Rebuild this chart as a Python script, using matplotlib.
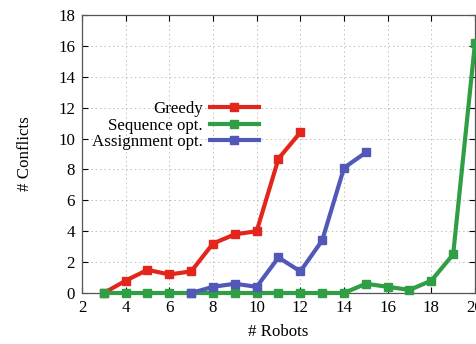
import matplotlib
matplotlib.use("Agg")
import matplotlib.pyplot as plt

plt.rcParams['font.family'] = ['Liberation Serif', 'DejaVu Serif']

greedy_x = [3, 4, 5, 6, 7, 8, 9, 10, 11, 12]
greedy_y = [0, 0.8, 1.5, 1.2, 1.4, 3.2, 3.8, 4.0, 8.7, 10.4]

seq_x = [3, 4, 5, 6, 7, 8, 9, 10, 11, 12, 13, 14, 15, 16, 17, 18, 19, 20]
seq_y = [0, 0, 0, 0, 0, 0, 0, 0, 0, 0, 0, 0, 0.6, 0.4, 0.2, 0.8, 2.5, 16.2]

assign_x = [7, 8, 9, 10, 11, 12, 13, 14, 15]
assign_y = [0, 0.4, 0.6, 0.4, 2.3, 1.4, 3.4, 8.1, 9.1]

xticks = [2, 4, 6, 8, 10, 12, 14, 16, 18, 20]
yticks = [0, 2, 4, 6, 8, 10, 12, 14, 16, 18]

fs = 12.2
fig = plt.figure(figsize=(4.77, 3.44), dpi=100)
ax = fig.add_axes([82/477, 51/344, 393/477, 278/344])

kw = dict(lw=3, marker='s', ms=6, clip_on=False, zorder=3)
ax.plot(greedy_x, greedy_y, color='#e3261c', label='Greedy', **kw)
ax.plot(seq_x, seq_y, color='#2f9e44', label='Sequence opt.', **kw)
ax.plot(assign_x, assign_y, color='#5258b8', label='Assignment opt.', **kw)

ax.set_xlim(2, 20)
ax.set_ylim(0, 18)
ax.set_xticks(xticks)
ax.set_yticks(yticks)
ax.tick_params(direction='in', top=True, right=True, length=4, labelsize=fs, width=0.8, pad=5)
ax.grid(True, linestyle=(0, (1.5, 3)), color='#c0c0c0', lw=0.7)
for s in ax.spines.values():
    s.set_color('#555555')
    s.set_linewidth(0.9)

ax.set_xlabel('# Robots', fontsize=fs, labelpad=6)
ax.set_ylabel('# Conflicts', fontsize=fs, labelpad=18)

leg = ax.legend(loc='upper right', bbox_to_anchor=(0.45, 0.69), frameon=False,
                markerfirst=False, fontsize=fs, handlelength=2.9, handletextpad=0.4,
                labelspacing=0.03, borderpad=0, borderaxespad=0)

fig.savefig('out.png', dpi=100)
